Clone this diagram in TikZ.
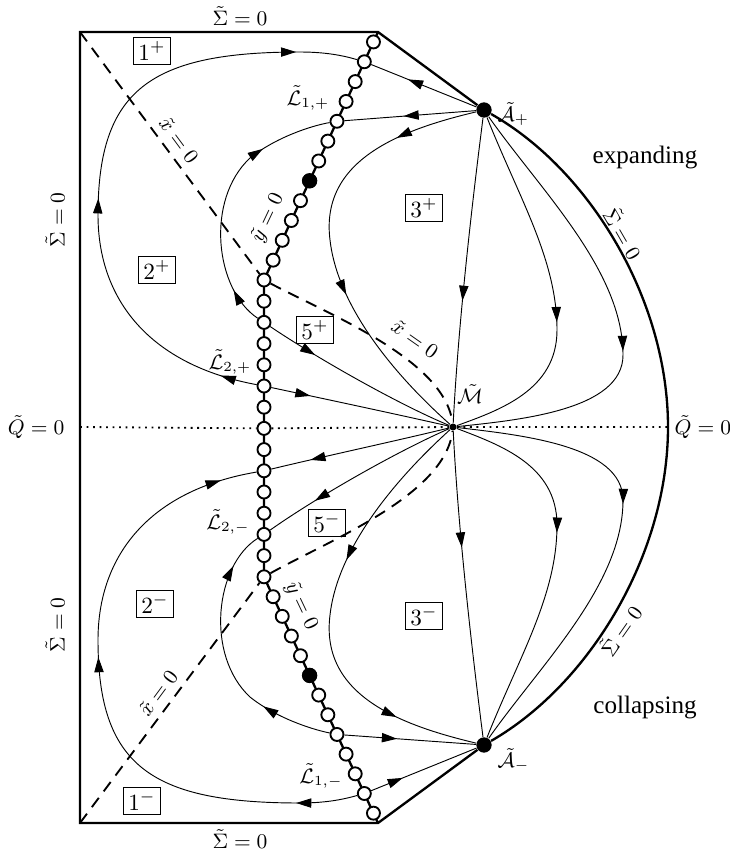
\documentclass[tikz,border=0pt]{standalone}
\usepackage[no-math]{fontspec}
\setmainfont{Liberation Serif}
\usetikzlibrary{arrows.meta,calc,decorations.markings}

\begin{document}
\begin{tikzpicture}[x=0.43pt, y=-0.43pt,
    >={Triangle[length=6.5pt,width=4pt]},
    flow/.style={line width=0.4pt},
    arrowat/.style={postaction={decorate,decoration={markings,mark=at position #1 with {\arrow{>}}}}},
    frame/.style={line width=1pt},
    chainline/.style={line width=1pt},
    nullcline/.style={line width=0.8pt, dash pattern=on 5pt off 3.5pt},
    chainpt/.style={circle, draw, fill=white, line width=0.8pt, minimum size=5.6pt, inner sep=0pt},
    eqpt/.style={circle, fill=black, minimum size=6.6pt, inner sep=0pt},
    lbl/.style={inner sep=0.5pt, font=\small},
    region/.style={draw, line width=0.4pt, inner xsep=2pt, inner ysep=2pt}]

    \useasboundingbox (0,0) rectangle (730,855);

    % Corners
    \coordinate (TL) at (80,32);
    \coordinate (TR) at (378,32);
    \coordinate (BL) at (80,823);
    \coordinate (BR) at (378,823);
    \coordinate (Ql) at (80,427);
    \coordinate (Qr) at (668,427);
    \coordinate (kinkU) at (264,280);
    \coordinate (kinkL) at (264,577);

    % Equilibria
    \node[eqpt] (Ap) at (484,110) {};
    \node[eqpt] (Am) at (484,745) {};
    \node[eqpt, minimum size=3pt] (M) at (453,427) {};

    % Line of equilibria
    \draw[chainline] (TR) -- (kinkU) -- (kinkL) -- (BR);
    \foreach \j in {0,...,14}
        \node[chainpt] (v\j) at (264,280+21.2*\j) {};
    \foreach \k in {1,...,12} {
        \node[chainpt] (u\k) at ($(kinkU)!\k/12.5!(TR)$) {};
        \node[chainpt] (d\k) at ($(kinkL)!\k/12.5!(BR)$) {};
    }
    \node[eqpt] at (u5) {};
    \node[eqpt] at (d5) {};

    % Boundary
    \draw[frame] (Ap) .. controls (590,170) and (668,300) .. (Qr)
        .. controls (668,554) and (590,684) .. (Am) -- (BR) -- (BL) -- (TL) -- (TR) -- (Ap);
    \draw[dotted, line width=0.8pt] (Ql) -- (v7) -- (M) -- (Qr);
    \draw[nullcline] (TL) -- (v0) .. controls (330,315) and (445,360) .. (M);
    \draw[nullcline] (BL) -- (v14) .. controls (330,540) and (445,495) .. (M);

    % Orbits, expanding half
    \draw[flow, arrowat=0.06, arrowat=0.44, arrowat=0.9] (v5) .. controls (150,365) and (98,300) .. (98,215)
        .. controls (98,90) and (150,52) .. (300,52) .. controls (330,52) and (348,57) .. (u11);
    \draw[flow, arrowat=0.65] (Ap) -- (u11);
    \draw[flow, arrowat=0.14, arrowat=0.73] (v2) .. controls (215,290) and (205,200) .. (250,158)
        .. controls (275,138) and (310,126) .. (u8);
    \draw[flow, arrowat=0.55] (Ap) -- (u8);
    \draw[flow, arrowat=0.19, arrowat=0.62] (Ap) .. controls (400,130) and (320,160) .. (330,240)
        .. controls (338,310) and (400,380) .. (M);
    \draw[flow, arrowat=0.6] (Ap) .. controls (470,220) and (458,330) .. (M);
    \draw[flow, arrowat=0.58] (Ap) .. controls (520,200) and (557,260) .. (557,330)
        .. controls (557,390) and (500,410) .. (M);
    \draw[flow, arrowat=0.58] (Ap) .. controls (540,190) and (623,270) .. (623,355)
        .. controls (623,410) and (520,420) .. (M);
    \draw[flow, arrowat=0.26] (v2) .. controls (320,360) and (400,405) .. (M);
    \draw[flow, arrowat=0.22] (v5) .. controls (330,400) and (400,415) .. (M);

    % Orbits, collapsing half
    \draw[flow, arrowat=0.1, arrowat=0.56, arrowat=0.94] (d11) .. controls (348,798) and (330,803) .. (300,803)
        .. controls (150,803) and (98,765) .. (98,640) .. controls (98,555) and (150,490) .. (v9);
    \draw[flow, arrowat=0.3] (d11) -- (Am);
    \draw[flow, arrowat=0.27, arrowat=0.86] (d8) .. controls (310,729) and (275,717) .. (250,697)
        .. controls (205,655) and (215,565) .. (v12);
    \draw[flow, arrowat=0.4] (d8) -- (Am);
    \draw[flow, arrowat=0.38, arrowat=0.81] (M) .. controls (400,475) and (338,545) .. (330,615)
        .. controls (320,695) and (400,725) .. (Am);
    \draw[flow, arrowat=0.38] (M) .. controls (458,525) and (470,635) .. (Am);
    \draw[flow, arrowat=0.42] (M) .. controls (500,445) and (557,465) .. (557,525)
        .. controls (557,595) and (520,655) .. (Am);
    \draw[flow, arrowat=0.42] (M) .. controls (520,435) and (623,445) .. (623,500)
        .. controls (623,585) and (540,665) .. (Am);
    \draw[flow, arrowat=0.74] (M) .. controls (400,450) and (320,495) .. (v12);
    \draw[flow, arrowat=0.78] (M) .. controls (400,440) and (330,455) .. (v9);

    % Labels
    \node[lbl] (sigT) at (240,16) {$\tilde\Sigma=0$};
    \node[lbl] (sigB) at (240,839) {$\tilde\Sigma=0$};
    \node[lbl, rotate=90] (sigLU) at (55,220) {$\tilde\Sigma=0$};
    \node[lbl, rotate=90] (sigLL) at (55,625) {$\tilde\Sigma=0$};
    \node[lbl, rotate=-60] (sigRU) at (624,233) {$\tilde\Sigma=0$};
    \node[lbl, rotate=55] (sigRL) at (620,630) {$\tilde\Sigma=0$};
    \node[lbl, anchor=east] (qL) at (66,427) {$\tilde Q=0$};
    \node[lbl, anchor=west] (qR) at (673,427) {$\tilde Q=0$};
    \node[lbl, font=\fontsize{10.8}{13}\selectfont] (exp) at (645,157) {expanding};
    \node[lbl, font=\fontsize{10.8}{13}\selectfont] (col) at (645,707) {collapsing};
    \node[lbl, anchor=west] (ApL) at (496,114) {$\tilde{\mathcal A}_+$};
    \node[lbl, anchor=west] (AmL) at (496,760) {$\tilde{\mathcal A}_-$};
    \node[lbl] (ML) at (470,394) {$\tilde{\mathcal M}$};
    \node[lbl] (L1p) at (308,98) {$\tilde{\mathcal L}_{1,+}$};
    \node[lbl] (L2p) at (230,362) {$\tilde{\mathcal L}_{2,+}$};
    \node[lbl] (L2m) at (228,522) {$\tilde{\mathcal L}_{2,-}$};
    \node[lbl] (L1m) at (321,776) {$\tilde{\mathcal L}_{1,-}$};
    \node[lbl, rotate=-53.5] (xLU) at (179,140) {$\tilde x=0$};
    \node[lbl, rotate=-35] (xM) at (415,339) {$\tilde x=0$};
    \node[lbl, rotate=53.5] (xLL) at (158,693) {$\tilde x=0$};
    \node[lbl, rotate=64.6] (yU) at (268,218) {$\tilde y=0$};
    \node[lbl, rotate=-64.6] (yL) at (301,606) {$\tilde y=0$};

    % Regions
    \node[region] (r1p) at (152,51) {$1^+$};
    \node[region] (r2p) at (157,270) {$2^+$};
    \node[region] (r3p) at (424,208) {$3^+$};
    \node[region] (r5p) at (315,330) {$5^+$};
    \node[region] (r5m) at (327,523) {$5^-$};
    \node[region] (r3m) at (424,616) {$3^-$};
    \node[region] (r2m) at (155,604) {$2^-$};
    \node[region] (r1m) at (142,801) {$1^-$};

\end{tikzpicture}
\end{document}
